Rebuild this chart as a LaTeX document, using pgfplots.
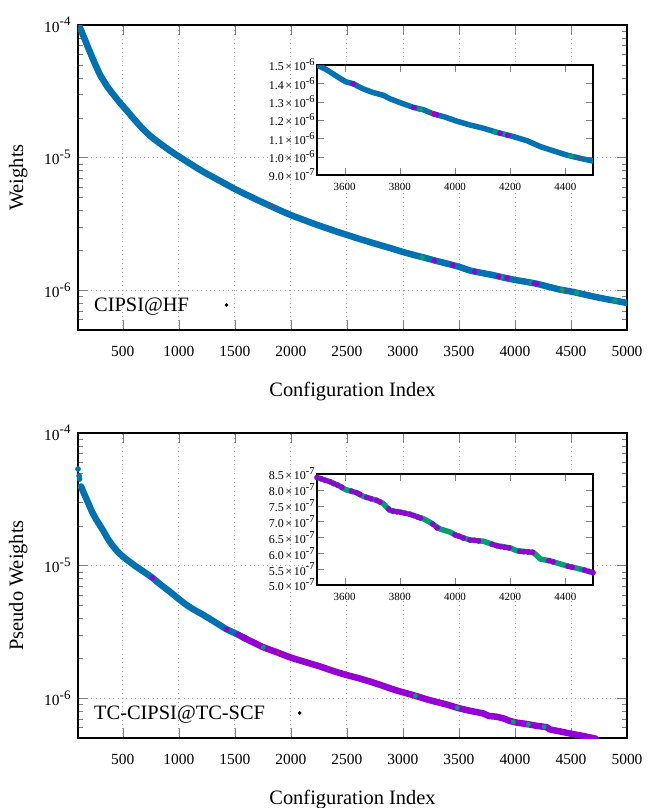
\documentclass[border=0pt]{standalone}
\usepackage{fontspec}
\setmainfont{Liberation Serif}
\usepackage{pgfplots}
\pgfplotsset{compat=1.18}
\definecolor{gblue}{HTML}{0072B2}
\definecolor{gpurple}{HTML}{9400D3}
\definecolor{ggreen}{HTML}{009E73}
\definecolor{gred}{HTML}{E51E10}
\newcommand{\msup}[1]{\raisebox{0.42em}{\fontsize{13}{13}\selectfont #1}}
\newcommand{\isup}[1]{\raisebox{0.42em}{\fontsize{10.5}{10.5}\selectfont #1}}
\newcommand{\ix}{\hspace{1.6bp}×\hspace{1.6bp}}
\pgfplotsset{every axis/.append style={
    scale only axis, tick align=inside,
    axis line style={line width=1.3bp},
    scaled y ticks=false, scaled x ticks=false}}
\begin{document}
\begin{tikzpicture}
\path[use as bounding box] (0,0) rectangle (649bp,-808bp);
% ================= TOP PANEL =================
\begin{axis}[at={(78bp,-330bp)}, anchor=south west,
    width=549bp, height=305bp,
    ymode=log, xmin=100, xmax=5000, ymin=5e-7, ymax=1e-4,
    xtick={500,1000,1500,2000,2500,3000,3500,4000,4500,5000},
    xticklabels={500,1000,1500,2000,2500,3000,3500,4000,4500,5000},
    ytick={1e-6,1e-5,1e-4},
    yticklabels={10\msup{-6},10\msup{-5},10\msup{-4}},
    minor ytick={6e-7,7e-7,8e-7,9e-7,2e-6,3e-6,4e-6,5e-6,6e-6,7e-6,8e-6,9e-6,2e-5,3e-5,4e-5,5e-5,6e-5,7e-5,8e-5,9e-5},
    major tick length=10bp, minor tick length=5bp,
    xmajorgrids, ymajorgrids,
    major grid style={gray!65, line width=0.8bp, dash pattern=on 0.8bp off 3.6bp},
    xticklabel style={font=\fontsize{15.5}{18}\selectfont, yshift=-13bp},
    yticklabel style={font=\fontsize{15.5}{18}\selectfont, xshift=-4bp},
    xlabel={Configuration Index}, ylabel={Weights},
    xlabel style={font=\fontsize{20.5}{23}\selectfont, at={(axis description cs:0.5,-0.2)}, anchor=center},
    ylabel style={font=\fontsize{20.5}{23}\selectfont, at={(axis description cs:-0.109,0.5)}, anchor=center},
    legend plot pos=right, legend cell align=left,
    legend style={draw=none, fill=none, anchor=west, at={(axis description cs:0.02,0.082)},
      font=\fontsize{20.5}{23}\selectfont, /tikz/column sep=34bp}]
\addplot[gblue, line width=6.5bp, line join=round, line cap=round, smooth, tension=0.4, forget plot] coordinates {
(110,9.9e-5) (150,8.2e-5) (200,6.46e-5) (250,5.13e-5) (300,4.17e-5) (364,3.41e-5)
(425,2.92e-5) (483,2.54e-5) (550,2.19e-5) (600,1.95e-5) (675,1.66e-5) (752,1.44e-5)
(850,1.245e-5) (961,1.07e-5) (1080,9.23e-6) (1200,7.98e-6) (1300,7.16e-6) (1400,6.44e-6)
(1500,5.79e-6) (1600,5.26e-6) (1700,4.79e-6) (1800,4.38e-6) (1900,4.01e-6) (2000,3.68e-6)
(2100,3.42e-6) (2200,3.18e-6) (2300,2.97e-6) (2400,2.78e-6) (2500,2.61e-6) (2600,2.45e-6)
(2700,2.31e-6) (2800,2.18e-6) (2900,2.06e-6) (3000,1.94e-6) (3100,1.84e-6) (3200,1.75e-6)
(3300,1.66e-6) (3400,1.58e-6) (3500,1.5e-6) (3600,1.405e-6) (3700,1.35e-6) (3800,1.3e-6)
(3900,1.243e-6) (4000,1.194e-6) (4100,1.155e-6) (4200,1.114e-6) (4300,1.06e-6) (4400,1.01e-6)
(4500,0.976e-6) (4600,0.935e-6) (4700,0.895e-6) (4800,0.86e-6) (4900,0.83e-6) (5000,0.8e-6)
};
\addplot[only marks, mark=*, mark size=1.2bp, gred, forget plot] coordinates {(1827,4.28e-6) (3915,1.238e-6) (4454,0.99e-6)};
\addplot[only marks, mark=*, mark size=2.5bp, ggreen, forget plot] coordinates {(3172,1.77e-6) (3880,1.255e-6) (4150,1.134e-6) (4420,1.004e-6) (4551,0.955e-6) (4891,0.833e-6)};
\addplot[only marks, mark=*, mark size=2.5bp, gpurple, forget plot] coordinates {(3281,1.67e-6) (3446,1.545e-6) (3640,1.385e-6) (3855,1.268e-6) (3930,1.232e-6) (4170,1.125e-6) (4195,1.115e-6)};
\addlegendimage{only marks, mark=*, mark size=1.6bp, black}
\addlegendentry{CIPSI@HF}
\end{axis}
% top inset
\begin{axis}[at={(317bp,-175bp)}, anchor=south west, width=276bp, height=110bp,
  xmin=3500, xmax=4500, ymin=0.9e-6, ymax=1.5e-6,
  xtick={3600,3800,4000,4200,4400},
  xticklabels={3600,3800,4000,4200,4400},
  ytick={0.9e-6,1.0e-6,1.1e-6,1.2e-6,1.3e-6,1.4e-6,1.5e-6},
  yticklabels={9.0\ix10\isup{-7},1.0\ix10\isup{-6},1.1\ix10\isup{-6},1.2\ix10\isup{-6},1.3\ix10\isup{-6},1.4\ix10\isup{-6},1.5\ix10\isup{-6}},
  major tick length=7bp,
  axis background/.style={fill=white},
  xticklabel style={font=\fontsize{11}{13}\selectfont, yshift=-5bp},
  yticklabel style={font=\fontsize{12}{13}\selectfont, xshift=1bp}]
\addplot[gblue, line width=5.5bp, line join=round, line cap=round, forget plot] coordinates {
(3500,1.5e-6) (3534,1.475e-6) (3570,1.44e-6) (3603,1.409e-6) (3631,1.398e-6) (3667,1.37e-6)
(3703,1.35e-6) (3740,1.335e-6) (3764,1.316e-6) (3806,1.292e-6) (3849,1.269e-6) (3885,1.256e-6)
(3921,1.234e-6) (3964,1.216e-6) (4006,1.194e-6) (4054,1.173e-6) (4103,1.155e-6) (4151,1.133e-6)
(4208,1.111e-6) (4261,1.087e-6) (4309,1.055e-6) (4358,1.031e-6) (4409,1.007e-6) (4454,0.991e-6)
(4500,0.976e-6)
};
\addplot[only marks, mark=*, mark size=1.3bp, gred, forget plot] coordinates {(3915,1.238e-6) (4454,0.991e-6)};
\addplot[only marks, mark=*, mark size=2.5bp, ggreen, forget plot] coordinates {(3873,1.258e-6) (4145,1.135e-6) (4182,1.121e-6) (4420,1.003e-6)};
\addplot[only marks, mark=*, mark size=2.5bp, gpurple, forget plot] coordinates {(3631,1.397e-6) (3851,1.268e-6) (3925,1.232e-6) (3933,1.229e-6) (4163,1.128e-6) (4191,1.116e-6)};
\end{axis}
% ================= BOTTOM PANEL =================
\begin{axis}[at={(78bp,-738bp)}, anchor=south west,
    width=549bp, height=305bp,
    ymode=log, xmin=100, xmax=5000, ymin=5e-7, ymax=1e-4,
    xtick={500,1000,1500,2000,2500,3000,3500,4000,4500,5000},
    xticklabels={500,1000,1500,2000,2500,3000,3500,4000,4500,5000},
    ytick={1e-6,1e-5,1e-4},
    yticklabels={10\msup{-6},10\msup{-5},10\msup{-4}},
    minor ytick={6e-7,7e-7,8e-7,9e-7,2e-6,3e-6,4e-6,5e-6,6e-6,7e-6,8e-6,9e-6,2e-5,3e-5,4e-5,5e-5,6e-5,7e-5,8e-5,9e-5},
    major tick length=10bp, minor tick length=5bp,
    xmajorgrids, ymajorgrids,
    major grid style={gray!65, line width=0.8bp, dash pattern=on 0.8bp off 3.6bp},
    xticklabel style={font=\fontsize{15.5}{18}\selectfont, yshift=-13bp},
    yticklabel style={font=\fontsize{15.5}{18}\selectfont, xshift=-4bp},
    xlabel={Configuration Index}, ylabel={Pseudo Weights},
    xlabel style={font=\fontsize{20.5}{23}\selectfont, at={(axis description cs:0.5,-0.2)}, anchor=center},
    ylabel style={font=\fontsize{20.5}{23}\selectfont, at={(axis description cs:-0.109,0.5)}, anchor=center},
    legend plot pos=right, legend cell align=left,
    legend style={draw=none, fill=none, anchor=west, at={(axis description cs:0.02,0.082)},
      font=\fontsize{20.5}{23}\selectfont, /tikz/column sep=31bp}]
\addplot[only marks, mark=*, mark size=2.6bp, gblue, forget plot] coordinates {(100,5.35e-5) (110,4.75e-5) (114,4.5e-5)};
\addplot[gblue, line width=6.5bp, line join=round, line cap=round, smooth, tension=0.4, forget plot] coordinates {
(127,3.95e-5) (150,3.55e-5) (172,3.23e-5) (200,2.85e-5) (231,2.49e-5) (275,2.14e-5) (321,1.86e-5)
(365,1.6e-5) (410,1.41e-5) (455,1.27e-5) (500,1.17e-5) (560,1.07e-5) (620,9.8e-6)
(690,8.95e-6) (763,8.1e-6) (840,7.15e-6) (918,6.37e-6) (990,5.68e-6) (1068,5.05e-6)
(1140,4.62e-6) (1217,4.25e-6) (1320,3.76e-6) (1426,3.31e-6) (1516,3.05e-6) (1600,2.8e-6)
};
\addplot[gpurple, line width=6.5bp, line join=round, line cap=round, smooth, tension=0.4, forget plot] coordinates {
(1570,2.88e-6) (1650,2.67e-6) (1754,2.42e-6) (1874,2.22e-6) (1994,2.03e-6) (2130,1.87e-6)
(2263,1.73e-6) (2380,1.6e-6) (2502,1.49e-6) (2610,1.41e-6) (2710,1.33e-6) (2820,1.24e-6)
(2932,1.15e-6) (3080,1.06e-6) (3231,0.969e-6) (3380,0.9e-6) (3500,0.84e-6)
(3603,0.801e-6) (3716,0.767e-6) (3764,0.735e-6) (3837,0.723e-6) (3909,0.698e-6)
(3945,0.677e-6) (4006,0.656e-6) (4103,0.638e-6) (4200,0.617e-6) (4284,0.603e-6)
(4309,0.582e-6) (4406,0.56e-6) (4500,0.539e-6) (4600,0.52e-6) (4694,0.5e-6) (4720,0.495e-6)
};
\addplot[only marks, mark=*, mark size=2.2bp, ggreen, forget plot] coordinates {(1754,2.42e-6) (3111,1.04e-6) (3485,0.845e-6) (3985,0.662e-6) (4120,0.634e-6) (4260,0.607e-6)};
\addplot[only marks, mark=*, mark size=2.5bp, gpurple, forget plot] coordinates {(763,8.1e-6) (1426,3.31e-6) (1528,3.02e-6) (1560,2.92e-6)};
\addplot[only marks, mark=*, mark size=1.1bp, gred, forget plot] coordinates {(1887,2.2e-6)};
\addlegendimage{only marks, mark=*, mark size=1.6bp, black}
\addlegendentry{TC-CIPSI@TC-SCF}
\end{axis}
% bottom inset
\begin{axis}[at={(317bp,-585bp)}, anchor=south west, width=276bp, height=111bp,
  xmin=3500, xmax=4500, ymin=5.0e-7, ymax=8.5e-7,
  xtick={3600,3800,4000,4200,4400},
  xticklabels={3600,3800,4000,4200,4400},
  ytick={5.0e-7,5.5e-7,6.0e-7,6.5e-7,7.0e-7,7.5e-7,8.0e-7,8.5e-7},
  yticklabels={5.0\ix10\isup{-7},5.5\ix10\isup{-7},6.0\ix10\isup{-7},6.5\ix10\isup{-7},7.0\ix10\isup{-7},7.5\ix10\isup{-7},8.0\ix10\isup{-7},8.5\ix10\isup{-7}},
  major tick length=7bp,
  axis background/.style={fill=white},
  xticklabel style={font=\fontsize{11}{13}\selectfont, yshift=-5bp},
  yticklabel style={font=\fontsize{12}{13}\selectfont, xshift=1bp}]
\addplot[ggreen, line width=5.5bp, line join=round, line cap=round, forget plot] coordinates {
(3500,8.39e-7) (3546,8.26e-7) (3582,8.12e-7) (3603,8.01e-7) (3643,7.91e-7) (3667,7.80e-7)
(3716,7.67e-7) (3740,7.57e-7) (3764,7.35e-7) (3800,7.30e-7) (3837,7.23e-7) (3885,7.09e-7)
(3909,6.98e-7) (3945,6.77e-7) (3982,6.67e-7) (4006,6.56e-7) (4054,6.42e-7) (4103,6.38e-7)
(4151,6.24e-7) (4200,6.17e-7) (4224,6.08e-7) (4284,6.03e-7) (4309,5.82e-7) (4345,5.76e-7)
(4406,5.60e-7) (4442,5.53e-7) (4500,5.39e-7)
};
\addplot[only marks, mark=*, mark size=2.6bp, gpurple, forget plot] coordinates {
(3500,8.39e-7) (3515,8.35e-7) (3530,8.3e-7) (3546,8.26e-7) (3560,8.2e-7) (3575,8.15e-7) (3590,8.08e-7)
(3625,7.96e-7) (3643,7.91e-7) (3655,7.86e-7) (3680,7.76e-7) (3695,7.72e-7) (3716,7.67e-7)
(3728,7.62e-7) (3760,7.4e-7) (3775,7.33e-7) (3790,7.31e-7) (3805,7.29e-7) (3820,7.26e-7) (3837,7.23e-7)
(3850,7.19e-7) (3865,7.14e-7) (3875,7.11e-7) (3920,6.92e-7) (3935,6.8e-7)
(4000,6.58e-7) (4015,6.54e-7) (4030,6.48e-7) (4054,6.42e-7) (4070,6.41e-7) (4085,6.39e-7)
(4135,6.28e-7) (4151,6.24e-7) (4165,6.21e-7) (4180,6.19e-7) (4195,6.17e-7)
(4235,6.06e-7) (4250,6.05e-7) (4265,6.04e-7) (4280,6.03e-7)
(4340,5.77e-7) (4355,5.73e-7) (4410,5.59e-7) (4425,5.56e-7) (4470,5.47e-7) (4485,5.43e-7) (4500,5.39e-7)
};
\addplot[only marks, mark=*, mark size=1.5bp, gblue, forget plot] coordinates {(4455,5.5e-7)};
\end{axis}
\end{tikzpicture}
\end{document}
